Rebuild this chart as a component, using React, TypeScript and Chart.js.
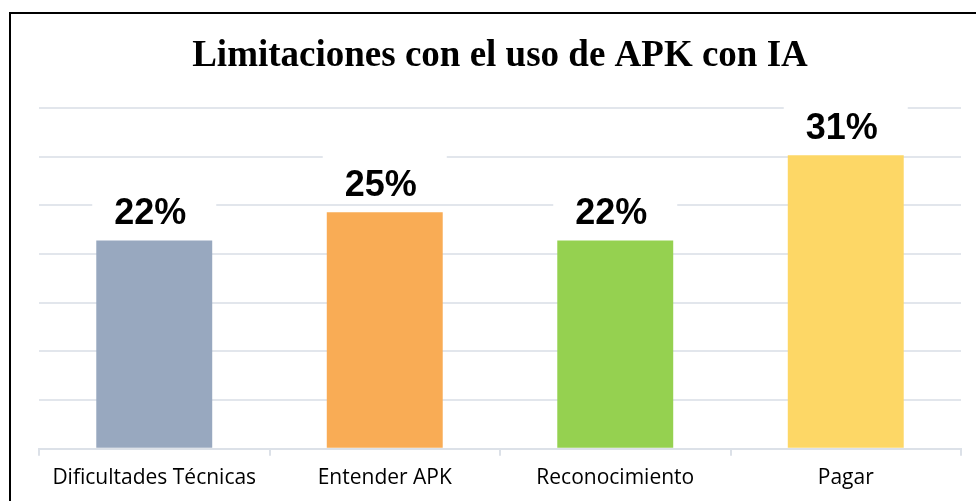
import React, { useEffect, useRef } from "react";
import { Chart, registerables } from "chart.js";

Chart.register(...registerables);

const titleText = "Limitaciones con el uso de APK con IA";
const categories = ["Dificultades Técnicas", "Entender APK", "Reconocimiento", "Pagar"];
const values = [22, 25, 22, 31];
const valueLabels = ["22%", "25%", "22%", "31%"];
const barColors = ["#98A8BF", "#F9AC55", "#95D150", "#FDD766"];
const yMin = 0;
const yMax = 36;
const gridCount = 8;

const labelPlugin = {
  id: "valueLabels",
  afterDatasetsDraw(chart: any) {
    const ctx = chart.ctx;
    const meta = chart.getDatasetMeta(0);
    ctx.save();
    ctx.font = "bold 36px 'Liberation Sans', Arial, sans-serif";
    ctx.textAlign = "center";
    ctx.textBaseline = "alphabetic";
    meta.data.forEach((bar: any, i: number) => {
      const baseline = bar.y - 16.5;
      ctx.fillStyle = "#FFFFFF";
      ctx.fillRect(bar.x - 62, baseline - 46, 124, 52);
      ctx.fillStyle = "#000000";
      ctx.fillText(valueLabels[i], bar.x - 4, baseline);
    });
    ctx.restore();
  },
};

export default function App() {
  const ref = useRef<HTMLCanvasElement | null>(null);
  useEffect(() => {
    if (!ref.current) return;
    const chart = new Chart(ref.current, {
      type: "bar",
      data: {
        labels: categories,
        datasets: [
          {
            data: values,
            backgroundColor: barColors,
            borderWidth: 0,
            categoryPercentage: 1,
            barPercentage: 0.503,
          },
        ],
      },
      options: {
        responsive: false,
        animation: false,
        layout: { padding: { top: 0, left: 39, right: 15, bottom: 0 } },
        plugins: {
          legend: { display: false },
          tooltip: { enabled: false },
          title: {
            display: true,
            text: titleText,
            color: "#000000",
            font: { family: "'Liberation Serif', 'Times New Roman', serif", size: 37, weight: "bold" },
            padding: { top: 34, bottom: 29.6 },
          },
        },
        scales: {
          x: {
            offset: true,
            grid: {
              offset: true,
              drawOnChartArea: false,
              drawTicks: true,
              tickLength: 7,
              color: "#DCE1E8",
              lineWidth: 2,
            },
            border: { display: true, color: "#DCE1E8", width: 2 },
            ticks: {
              color: "#000000",
              padding: 10,
              maxRotation: 0,
              font: { family: "'Open Sans', 'Liberation Sans', sans-serif", size: 21 },
            },
          },
          y: {
            min: yMin,
            max: yMax,
            ticks: { display: false, count: gridCount },
            grid: { color: "#E2E6EC", lineWidth: 2, drawTicks: false },
            border: { display: false },
          },
        },
      },
      plugins: [labelPlugin],
    });
    return () => chart.destroy();
  }, []);

  return (
    <div style={{ position: "fixed", left: 0, top: 0, width: 976, height: 501, overflow: "hidden", background: "#fff" }}>
      <canvas ref={ref} width={976} height={501} style={{ position: "absolute", left: 0, top: 0, display: "block" }} />
      <div
        style={{
          position: "absolute",
          left: 9,
          top: 12,
          width: 1100,
          height: 700,
          borderTop: "2px solid #000",
          borderLeft: "2px solid #000",
          pointerEvents: "none",
        }}
      />
    </div>
  );
}
